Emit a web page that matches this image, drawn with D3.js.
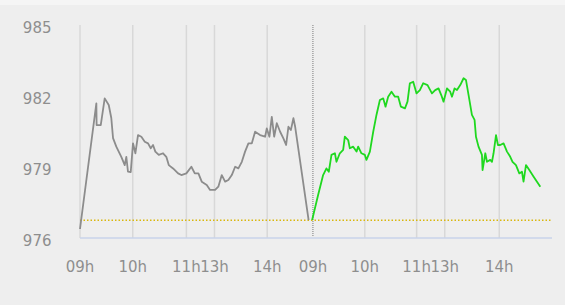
<!DOCTYPE html>
<html>
<head>
<meta charset="utf-8">
<script src="https://cdn.jsdelivr.net/npm/d3@7"></script>
<style>
  body { margin: 0; background: #eeeeee; }
  svg { display: block; }
</style>
</head>
<body>
<svg id="chart"></svg>
<script>
// trading minutes since the first 09h open, price values
var times1 = [0, 18.6, 18.9, 23.6, 25, 28.1, 32.7, 35.6, 37.6, 41.3, 47, 50.9, 52.7, 54.6, 57.7, 60.3, 63, 66, 69.8, 73.7,
  77.4, 80.5, 83.1, 85.7, 89.6, 94.5, 98.2, 101, 105.9, 111.6, 115.3, 121, 126.7, 130.6, 134.7, 138.5, 144.2, 148, 153.7,
  157.4, 161.3, 165.1, 168.8, 172.7, 176.5, 180.2, 184.1, 187.8, 191.6, 195.5, 199.2, 204.9, 210.6, 212.5, 215.5, 218.2,
  220.9, 223.9, 227.7, 231.4, 234.5, 237.1, 239.9, 242.8, 244.8, 260.1];
var prices1 = [976.38, 981.69, 980.77, 980.77, 981.12, 981.90, 981.62, 981.07, 980.22, 979.86, 979.43, 979.08, 979.43, 978.80,
  978.78, 980.00, 979.58, 980.35, 980.28, 980.07, 980.00, 979.79, 979.93, 979.65, 979.51, 979.58, 979.43, 979.08, 978.94,
  978.73, 978.66, 978.73, 979.01, 978.73, 978.73, 978.38, 978.24, 978.03, 978.03, 978.17, 978.66, 978.38, 978.45, 978.66,
  979.01, 978.94, 979.22, 979.65, 980.00, 980.00, 980.49, 980.35, 980.28, 980.63, 980.28, 981.12, 980.28, 980.85, 980.49,
  980.21, 979.93, 980.70, 980.56, 981.06, 980.70, 976.76];

var times2 = [264.1, 270.9, 276.6, 280.4, 283.1, 286.1, 290, 291.8, 295.6, 299.4, 301.3, 305.1, 307, 310.8, 314.6, 316.5,
  320.2, 324.1, 325.9, 329.8, 333.6, 337.3, 341.2, 345, 347.6, 350.6, 354.4, 358.3, 362, 365.1, 369.7, 372.6, 375.3, 379.1,
  382.9, 386.7, 390.5, 395.4, 400.4, 404.1, 407.9, 411, 413.6, 417.5, 421.2, 423.2, 426.1, 428.9, 432.6, 436.4, 439.1,
  442.1, 445.9, 448.9, 450.5, 453.4, 457.3, 458, 461.1, 463, 466.8, 468.7, 470.5, 473.3, 475.5, 478.1, 481.9, 485.8, 489.5,
  492.1, 496, 499.8, 502.8, 504.6, 507.4, 511.2, 516.1, 523.7];
var prices2 = [976.76, 977.82, 978.66, 978.94, 978.80, 979.51, 979.58, 979.22, 979.58, 979.72, 980.28, 980.14, 979.79,
  979.86, 979.65, 979.86, 979.58, 979.51, 979.30, 979.65, 980.49, 981.20, 981.83, 981.90, 981.55, 981.97, 982.18, 981.97,
  981.97, 981.55, 981.48, 981.76, 982.54, 982.60, 982.11, 982.25, 982.54, 982.46, 982.11, 982.25, 982.32, 982.04, 981.76,
  982.32, 982.18, 981.97, 982.32, 982.25, 982.46, 982.75, 982.68, 982.04, 981.20, 980.99, 980.28, 979.86, 979.51, 978.87,
  979.58, 979.22, 979.30, 979.22, 979.58, 980.35, 979.93, 979.93, 980.00, 979.65, 979.43, 979.22, 979.08, 978.73, 978.80,
  978.38, 979.08, 978.87, 978.59, 978.17];

var prevClose = 976.75;
var dayBreak = 265;

var tickTimes = [0, 60, 121, 153, 213, 265, 324, 383, 415, 477];
var tickLabels = ["09h", "10h", "11h", "13h", "14h", "09h", "10h", "11h", "13h", "14h"];
var yTicks = [976, 979, 982, 985];

var W = 565, H = 305;
var margin = {top: 25, right: 13, bottom: 67, left: 80},
    width = W - margin.left - margin.right,
    height = H - margin.top - margin.bottom;

var svg = d3.select("#chart").attr("width", W).attr("height", H);

svg.append("rect").attr("width", W).attr("height", H).attr("fill", "#eeeeee");
svg.append("rect").attr("width", W).attr("height", 5).attr("fill", "#f5f5f5");

var g = svg.append("g")
    .attr("transform", "translate(" + margin.left + "," + margin.top + ")");

var x = d3.scaleLinear().domain([0, 537]).range([0, width]);
var y = d3.scaleLinear().domain([976, 985]).range([height, 0]);

// vertical gridlines (the second 09h is the dotted day separator)
g.selectAll(".grid")
    .data(tickTimes.filter(function(t) { return t !== dayBreak; }))
    .enter().append("line")
    .attr("class", "grid")
    .attr("x1", function(d) { return x(d); })
    .attr("x2", function(d) { return x(d); })
    .attr("y1", 0)
    .attr("y2", height)
    .attr("stroke", "#d8d8d8")
    .attr("stroke-width", 1.5);

g.append("line")
    .attr("x1", x(dayBreak)).attr("x2", x(dayBreak))
    .attr("y1", 0).attr("y2", height - 1)
    .attr("stroke", "#7a7a7a")
    .attr("stroke-width", 1)
    .attr("stroke-dasharray", "1,1");

// baseline
g.append("line")
    .attr("x1", 0).attr("x2", width)
    .attr("y1", height).attr("y2", height)
    .attr("stroke", "#c9d3ea")
    .attr("stroke-width", 1.5);

// previous close
g.append("line")
    .attr("x1", 0).attr("x2", width)
    .attr("y1", y(prevClose)).attr("y2", y(prevClose))
    .attr("stroke", "#d9b70e")
    .attr("stroke-width", 1.5)
    .attr("stroke-dasharray", "1.5,2");

var line = d3.line()
    .x(function(d) { return x(d[0]); })
    .y(function(d) { return y(d[1]); });

g.append("path")
    .datum(d3.zip(times1, prices1))
    .attr("d", line)
    .attr("fill", "none")
    .attr("stroke", "#8c8c8c")
    .attr("stroke-width", 1.8)
    .attr("stroke-linejoin", "round");

g.append("path")
    .datum(d3.zip(times2, prices2))
    .attr("d", line)
    .attr("fill", "none")
    .attr("stroke", "#1fd81f")
    .attr("stroke-width", 1.8)
    .attr("stroke-linejoin", "round");

// x labels
g.selectAll(".xl")
    .data(tickTimes)
    .enter().append("text")
    .attr("class", "xl")
    .attr("x", function(d) { return x(d); })
    .attr("y", height + 34)
    .attr("text-anchor", "middle")
    .attr("font-family", "DejaVu Sans, sans-serif")
    .attr("font-size", 15)
    .attr("fill", "#8e8e8e")
    .text(function(d, i) { return tickLabels[i]; });

// y labels
g.selectAll(".yl")
    .data(yTicks)
    .enter().append("text")
    .attr("class", "yl")
    .attr("x", -28.5)
    .attr("y", function(d) { return y(d) + 8; })
    .attr("text-anchor", "end")
    .attr("font-family", "DejaVu Sans, sans-serif")
    .attr("font-size", 15)
    .attr("fill", "#8e8e8e")
    .text(function(d) { return d; });
</script>
</body>
</html>
